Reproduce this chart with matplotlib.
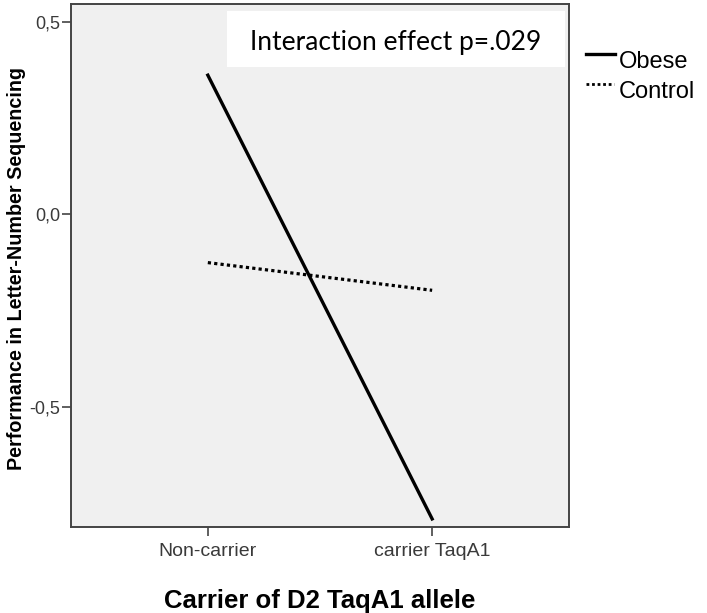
import matplotlib
matplotlib.use("Agg")
import matplotlib.pyplot as plt
from matplotlib.patches import Rectangle
from matplotlib.lines import Line2D
from matplotlib.ticker import FuncFormatter

# data
groups = ["Non-carrier", "carrier TaqA1"]
obese = [0.362, -0.791]
control = [-0.125, -0.197]
yticks = [-0.5, 0.0, 0.5]

plt.rcParams['font.family'] = ['Liberation Sans', 'DejaVu Sans']

fig = plt.figure(figsize=(7.07, 6.13), dpi=100)
ax = fig.add_axes([0.1004, 0.1403, 0.7044, 0.8532])
ax.set_facecolor('#f0f0f0')

x = list(range(len(groups)))
ax.plot(x, obese, '-', color='black', lw=2.4, label='Obese')
ax.plot(x, control, linestyle=(0, (1, 1)), color='black', lw=2.3,
        dash_capstyle='butt', label='Control')

ax.set_xlim(-0.61, 1.61)
ax.set_ylim(-0.812, 0.547)
ax.set_xticks(x)
ax.set_xticklabels(groups)
ax.set_yticks(yticks)
ax.yaxis.set_major_formatter(FuncFormatter(lambda v, p: ('%.1f' % v).replace('.', ',')))
ax.tick_params(colors='#444444', labelcolor='#3a3a3a', length=6.5, width=1.2)
ax.tick_params(axis='x', labelsize=14, pad=5)
ax.tick_params(axis='y', labelsize=13, pad=1)
for s in ax.spines.values():
    s.set_color('#444444')
    s.set_linewidth(1.4)

ax.set_ylabel('Performance in Letter-Number Sequencing', fontsize=14.2, fontweight='bold')
ax.yaxis.set_label_coords(-0.090, 0.495)
ax.set_xlabel('Carrier of D2 TaqA1 allele', fontsize=18.5, fontweight='bold')
ax.xaxis.set_label_coords(0.5, -0.118)

# annotation box
ax.add_patch(Rectangle((0.313, 0.880), 0.679, 0.107, transform=ax.transAxes,
                       facecolor='white', edgecolor='none', zorder=3))
ax.text(0.652, 0.912, 'Interaction effect p=.029', transform=ax.transAxes,
        ha='center', va='baseline', fontsize=19, family=['Lato', 'DejaVu Sans'], zorder=4)

# legend, drawn outside the plot on the right
fig.add_artist(Line2D([586 / 707, 615 / 707], [1 - 54 / 613, 1 - 54 / 613],
                      color='black', lw=2.4, transform=fig.transFigure))
fig.add_artist(Line2D([586 / 707, 614 / 707], [1 - 84 / 613, 1 - 84 / 613],
                      color='black', lw=2.0, linestyle=(0, (1, 1)),
                      dash_capstyle='butt', transform=fig.transFigure))
fig.text(619 / 707, 1 - 68 / 613, 'Obese', fontsize=17, va='baseline', ha='left')
fig.text(619 / 707, 1 - 98 / 613, 'Control', fontsize=17, va='baseline', ha='left')

fig.savefig('out.png', dpi=100, facecolor='white')
